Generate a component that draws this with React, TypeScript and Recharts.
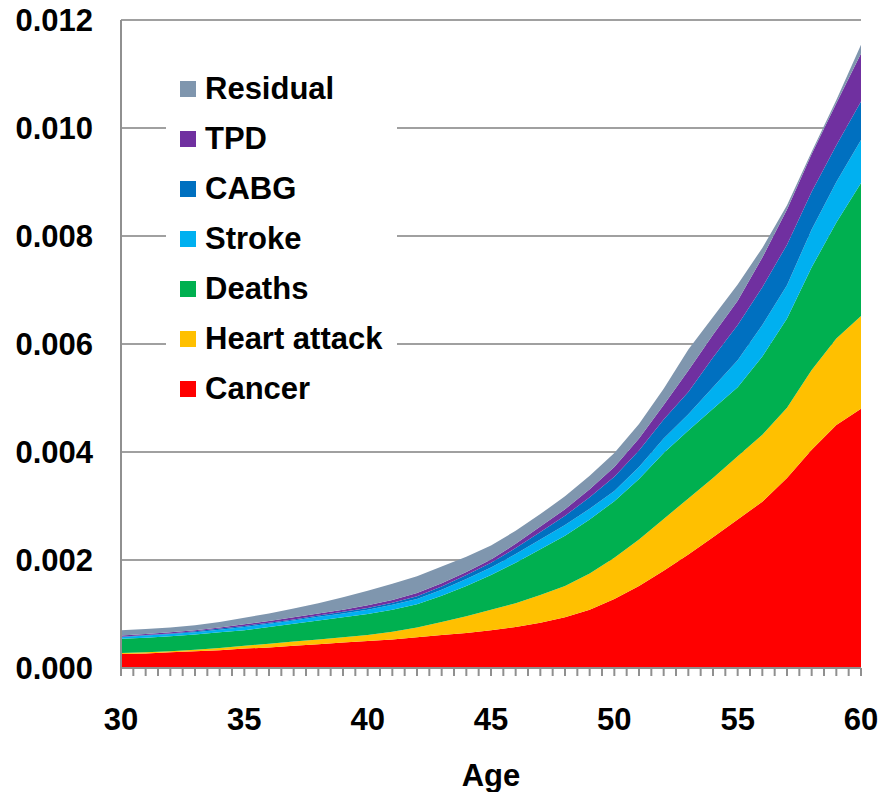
import React from 'react';
import { AreaChart, Area, XAxis, YAxis, CartesianGrid } from 'recharts';

const ages = [30, 31, 32, 33, 34, 35, 36, 37, 38, 39, 40, 41, 42, 43, 44, 45, 46, 47, 48, 49, 50, 51, 52, 53, 54, 55, 56, 57, 58, 59, 60];

const cancer = [0.00026, 0.00027, 0.00029, 0.00031, 0.00033, 0.00036, 0.00038, 0.00041, 0.00044, 0.00047, 0.0005, 0.00053, 0.00057, 0.00061, 0.00065, 0.0007, 0.00076, 0.00084, 0.00094, 0.00108, 0.00128, 0.00152, 0.0018, 0.0021, 0.00242, 0.00275, 0.00308, 0.00352, 0.00404, 0.0045, 0.0048];
const heartAttack = [0.00002, 0.00002, 0.00002, 0.00003, 0.00004, 0.00005, 0.00007, 0.00008, 0.00009, 0.0001, 0.00011, 0.00014, 0.00018, 0.00024, 0.00031, 0.00038, 0.00044, 0.00051, 0.00058, 0.00067, 0.00076, 0.00086, 0.00096, 0.00104, 0.0011, 0.00117, 0.00124, 0.0013, 0.00148, 0.0016, 0.00172];
const deaths = [0.00026, 0.00027, 0.00028, 0.00028, 0.00029, 0.00029, 0.00031, 0.00033, 0.00035, 0.00037, 0.00039, 0.00041, 0.00043, 0.00049, 0.00056, 0.00064, 0.00075, 0.00085, 0.00093, 0.001, 0.00105, 0.00112, 0.00122, 0.00126, 0.00128, 0.00128, 0.00145, 0.00165, 0.0019, 0.00215, 0.00246];
const stroke = [0.00003, 0.00004, 0.00004, 0.00004, 0.00005, 0.00006, 0.00006, 0.00006, 0.00007, 0.00007, 0.00008, 0.00009, 0.0001, 0.00011, 0.00013, 0.00014, 0.00016, 0.00018, 0.0002, 0.0002, 0.00019, 0.00022, 0.00027, 0.0003, 0.0004, 0.0005, 0.00058, 0.00062, 0.0007, 0.00075, 0.0008];
const cabg = [0.00001, 0.00001, 0.00001, 0.00002, 0.00002, 0.00002, 0.00002, 0.00002, 0.00002, 0.00003, 0.00003, 0.00004, 0.00005, 0.00006, 0.00007, 0.00009, 0.00011, 0.00014, 0.00017, 0.00021, 0.00026, 0.00031, 0.00035, 0.00041, 0.00055, 0.00065, 0.0007, 0.00075, 0.0007, 0.00068, 0.00071];
const tpd = [0.00002, 0.00002, 0.00002, 0.00002, 0.00002, 0.00003, 0.00003, 0.00004, 0.00004, 0.00004, 0.00005, 0.00005, 0.00006, 0.00006, 0.00006, 0.00006, 0.00008, 0.0001, 0.00012, 0.00015, 0.00018, 0.00022, 0.00027, 0.0004, 0.00042, 0.00045, 0.00055, 0.00065, 0.0007, 0.00078, 0.00089];
const residual = [0.0001, 0.00009, 0.00009, 0.00009, 0.0001, 0.00012, 0.00014, 0.00016, 0.00019, 0.00023, 0.00027, 0.0003, 0.00031, 0.00031, 0.00028, 0.00026, 0.00024, 0.00023, 0.00024, 0.00025, 0.00026, 0.00027, 0.0003, 0.00039, 0.00033, 0.0003, 0.00018, 0.00008, 0.00004, 0.00006, 0.00016];

const labelTicks = [30, 35, 40, 45, 50, 55, 60];
const yTicks = [0, 0.002, 0.004, 0.006, 0.008, 0.01, 0.012];

// bottom to top of the stack
const series = [
  { key: 'cancer', name: 'Cancer', color: '#FF0000' },
  { key: 'heartAttack', name: 'Heart attack', color: '#FFC000' },
  { key: 'deaths', name: 'Deaths', color: '#00B050' },
  { key: 'stroke', name: 'Stroke', color: '#00B0F0' },
  { key: 'cabg', name: 'CABG', color: '#0070C0' },
  { key: 'tpd', name: 'TPD', color: '#7030A0' },
  { key: 'residual', name: 'Residual', color: '#7F96AE' },
];

const data = ages.map((age, i) => ({
  age,
  cancer: cancer[i],
  heartAttack: heartAttack[i],
  deaths: deaths[i],
  stroke: stroke[i],
  cabg: cabg[i],
  tpd: tpd[i],
  residual: residual[i],
}));

// minor tick marks every half year
const xTicks = Array.from({ length: 61 }, (_, i) => 30 + i * 0.5);

const font = '"Liberation Sans", Arial, sans-serif';

const LegendBox = () => (
  <div style={{ position: 'absolute', left: 166, top: 64, width: 217, background: '#fff', padding: '0 0 0 14px' }}>
    {[...series].reverse().map((s) => (
      <div key={s.key} style={{ display: 'flex', alignItems: 'center', height: 50 }}>
        <span style={{ width: 16, height: 16, background: s.color, display: 'inline-block', marginRight: 9 }} />
        <span style={{ fontFamily: font, fontWeight: 'bold', fontSize: 31, color: '#000', lineHeight: '50px' }}>{s.name}</span>
      </div>
    ))}
  </div>
);

export default function App() {
  return (
    <div style={{ position: 'absolute', left: 0, top: 0, width: 881, height: 792 }}>
      <AreaChart width={881} height={792} data={data} margin={{ top: 20, right: 20, left: 0, bottom: 0 }}>
        <CartesianGrid vertical={false} stroke="#A0A0A0" strokeWidth={2} />
        <XAxis
          dataKey="age"
          type="number"
          domain={[30, 60]}
          ticks={xTicks}
          interval={0}
          height={124}
          tickSize={8}
          tickMargin={32}
          stroke="#909090"
          strokeWidth={2}
          tickFormatter={(v) => (labelTicks.includes(v) ? String(v) : '')}
          tick={{ fill: '#000', fontSize: 31, fontWeight: 'bold', fontFamily: font }}
          label={{ value: 'Age', position: 'insideBottom', offset: 6, fill: '#000', fontSize: 31, fontWeight: 'bold', fontFamily: font }}
        />
        <YAxis
          domain={[0, 0.012]}
          ticks={yTicks}
          width={121}
          tickLine={false}
          tickSize={0}
          tickMargin={28}
          stroke="#909090"
          strokeWidth={2}
          tickFormatter={(v) => v.toFixed(3)}
          tick={{ fill: '#000', fontSize: 31, fontWeight: 'bold', fontFamily: font }}
        />
        {series.map((s) => (
          <Area
            key={s.key}
            type="linear"
            dataKey={s.key}
            name={s.name}
            stackId="1"
            stroke="none"
            fill={s.color}
            fillOpacity={1}
            isAnimationActive={false}
          />
        ))}
      </AreaChart>
      <LegendBox />
    </div>
  );
}
